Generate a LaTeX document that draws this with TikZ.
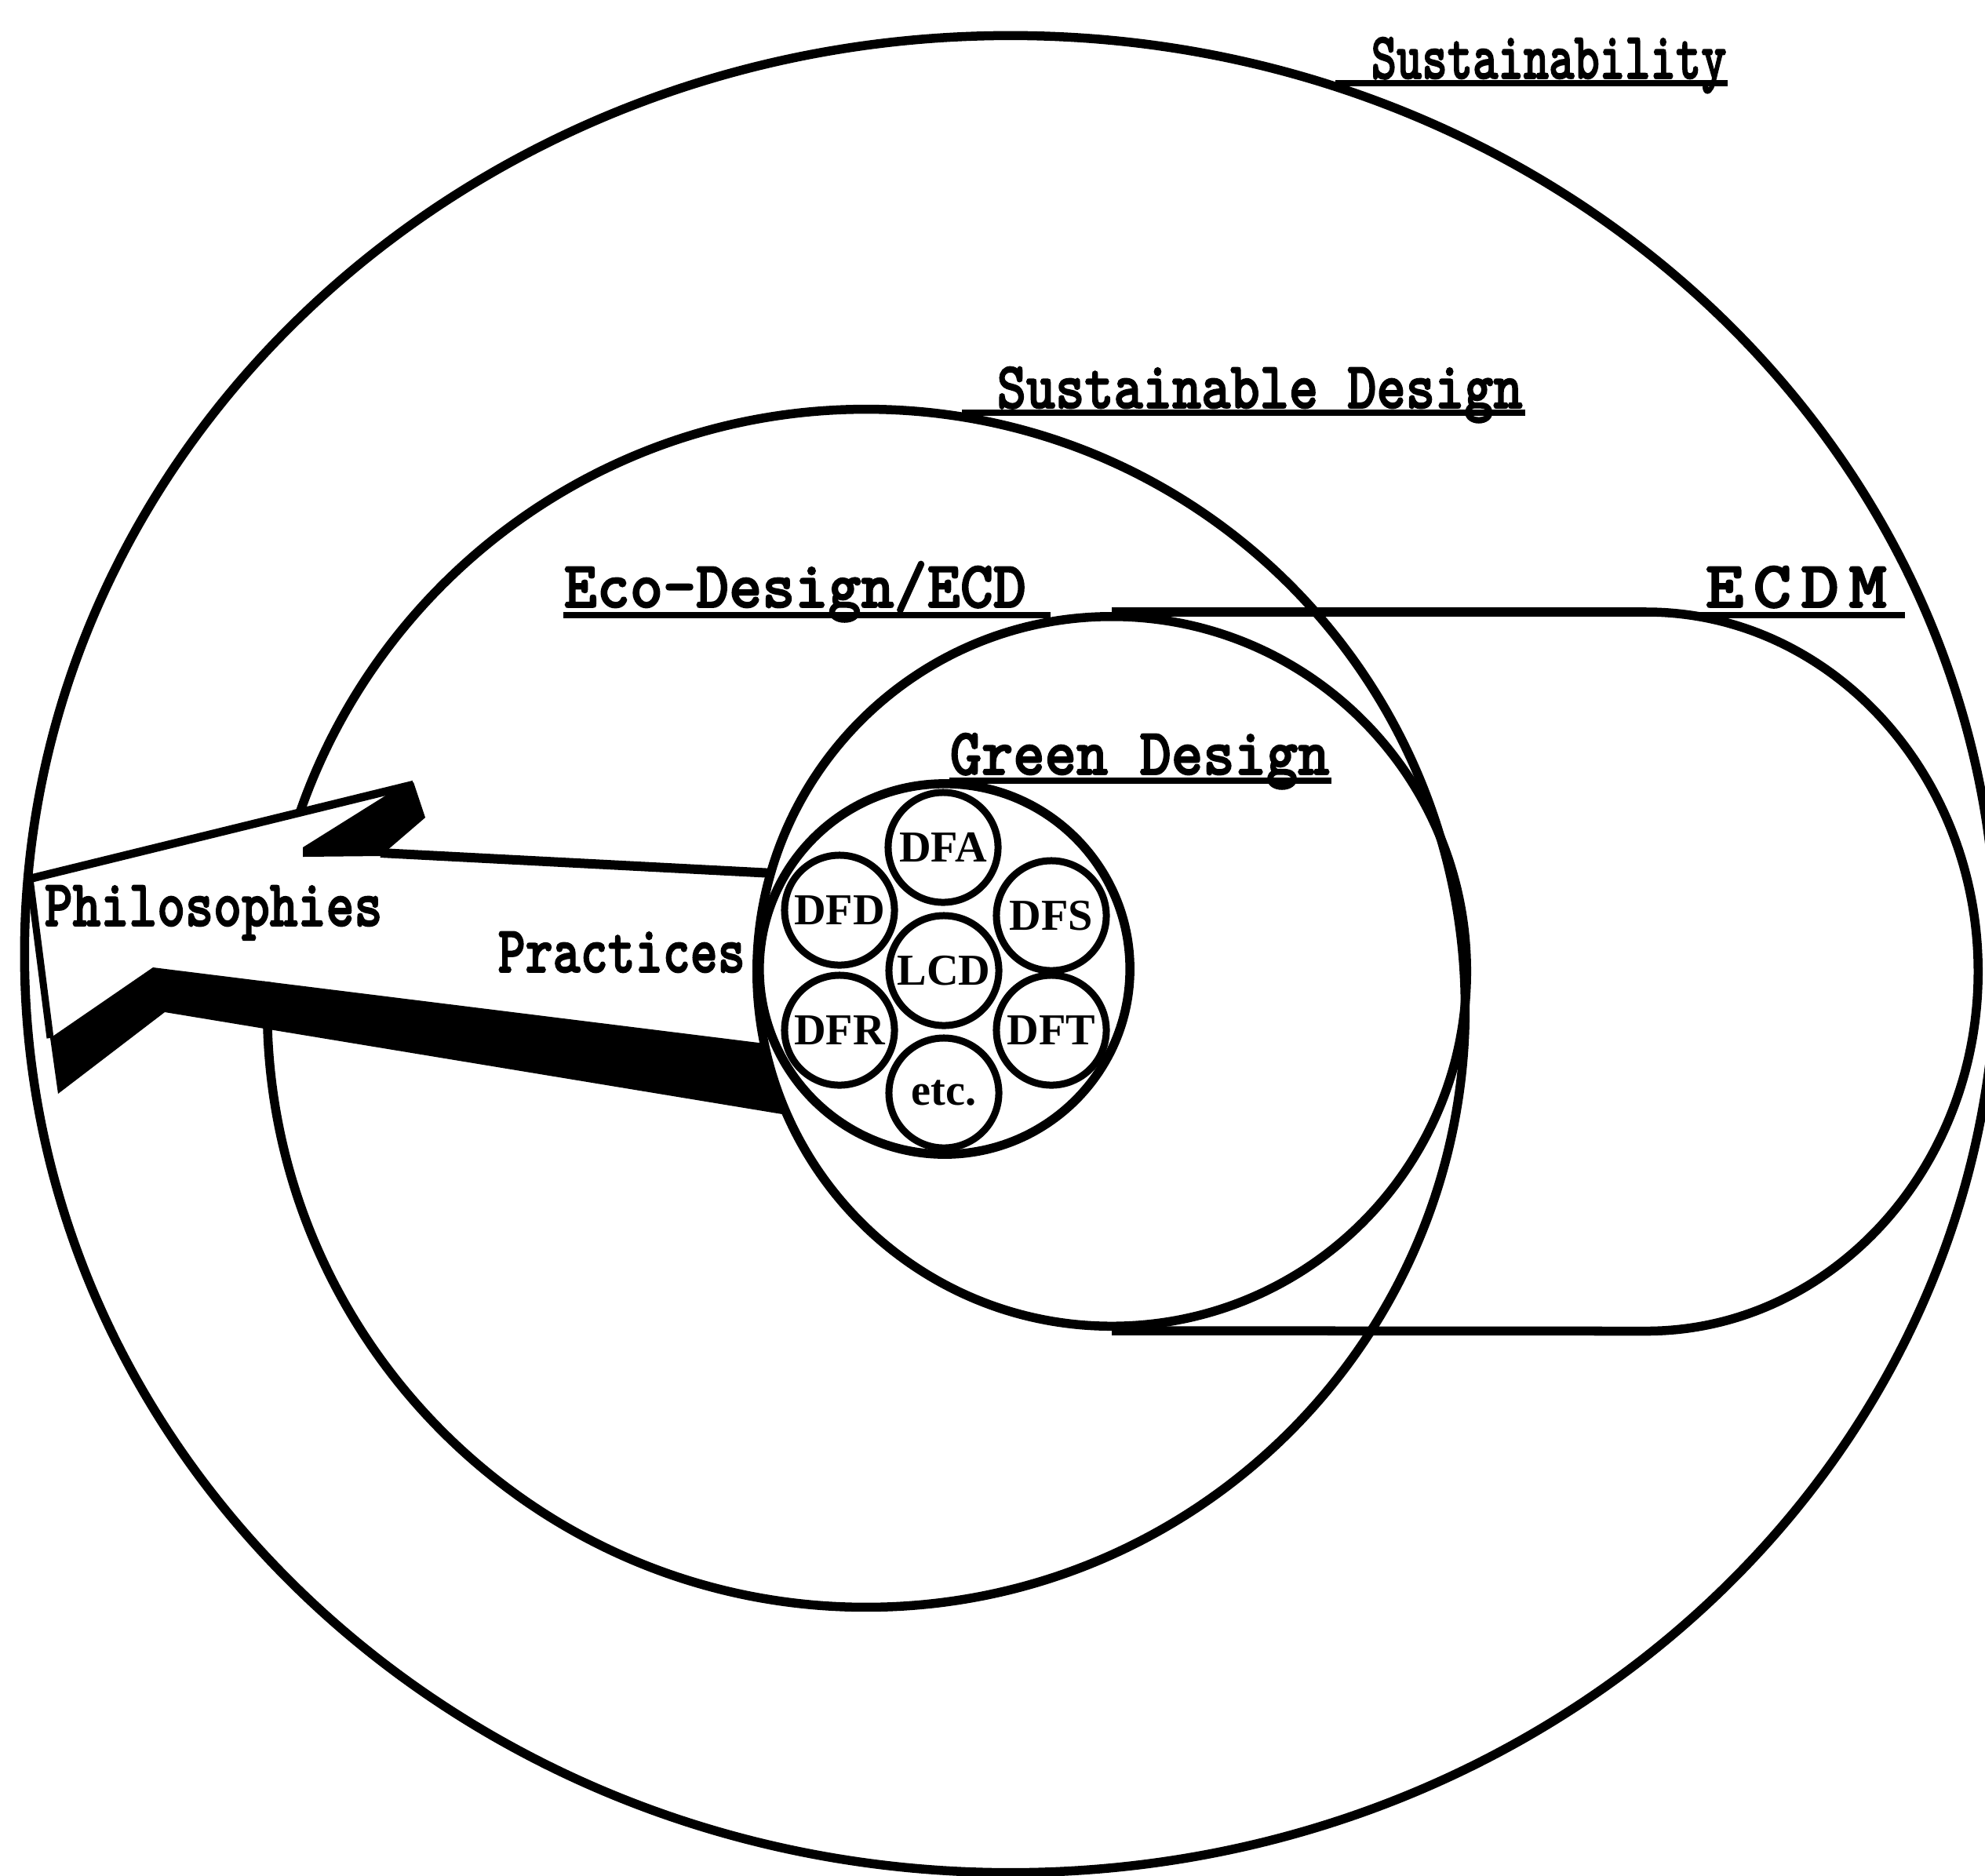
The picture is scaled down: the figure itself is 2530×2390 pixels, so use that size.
\documentclass[tikz,border=0pt]{standalone}
\usepackage{fontspec}
\usepackage{graphicx}
\usetikzlibrary{shapes.geometric}
\newfontfamily\circfont{Liberation Serif}
\newfontfamily\labfont[FakeBold=2.2]{lmmonolt10-bold.otf}
\begin{document}
\begin{tikzpicture}[x=0.01cm, y=-0.01cm,
  ring/.style={draw, circle, line width=0.115cm, inner sep=0pt},
  subc/.style={draw, circle, inner sep=0pt, line width=0.09cm, minimum size=1.40cm,
    font=\circfont\bfseries\fontsize{16}{16}\selectfont},
  lab/.style={anchor=base west, inner sep=0pt, font=\labfont\fontsize{24}{24}\selectfont},
  uline/.style={line width=0.08cm},
  edge/.style={line width=0.105cm}
]
\useasboundingbox (0,0) rectangle (2530,2390);
\fill[white] (0,0) rectangle (2530,2390);
\clip (0,0) rectangle (2530,2390);

% Sustainable Design circle
\node[ring, minimum size=15.26cm] (sd) at (1104,1285) {};

% double arrow (Philosophies / Practices)
\fill[white] (38,1120) -- (527,1000) -- (541,1042) -- (485,1088) -- (986,1112)
  -- (975,1330) -- (195,1233) -- (64,1323) -- cycle;
\fill[black] (64,1323) -- (195,1233) -- (975,1330) -- (1003,1421) -- (210,1290) -- (74,1394) -- cycle;
\fill[black] (493,1013) -- (527,997) -- (542,1042) -- (485,1091) -- (386,1092) -- (386,1080) -- cycle;
\draw[edge] (38,1120) -- (527,1000);
\draw[line width=0.12cm] (485,1087) -- (986,1113);
\draw[line width=0.09cm] (38,1120) -- (64,1323);

% Sustainability (outer)
\node[draw, ellipse, line width=0.115cm, inner sep=0pt,
  minimum width=25.12cm, minimum height=23.40cm] (sus) at (1288,1216) {};

% Eco-Design circle and ECDM stadium
\node[ring, minimum size=9.04cm] (eco) at (1417,1238) {};
\draw[line width=0.115cm] (eco.north) -- ++(681,0)
  arc[start angle=90, end angle=-90, x radius=4.23cm, y radius=4.58cm] -- (eco.south);

% Green Design circle
\node[ring, minimum size=4.72cm] (gd) at (1204,1235) {};
\node[subc] (lcd) at (1203,1237) {LCD};
\node[subc] (dfa) at (1202,1080) {DFA};
\node[subc] (dfd) at (1070,1160) {DFD};
\node[subc] (dfs) at (1340,1167) {DFS};
\node[subc] (dfr) at (1070,1313) {DFR};
\node[subc] (dft) at (1340,1313) {DFT};
\node[subc] (etc) at (1203,1393) {etc.};

% labels
\node[lab] (tsus) at (1747,100) {\scalebox{0.73}[1]{Sustainability}};
\draw[uline] (1702,106) -- (2202,106);
\node[lab] (tsd) at (1270,520) {\scalebox{0.84}[1]{Sustainable Design}};
\draw[uline] (1226,526) -- (1944,526);
\node[lab] (teco) at (718,774) {\scalebox{0.95}[1]{Eco-Design/ECD}};
\draw[uline] (718,784) -- (1339,784);
\node[lab] (tecdm) at (2173,774) {\scalebox{1.1}[1]{E\hspace{0.11cm}C\hspace{0.11cm}D\hspace{0.11cm}M}};
\draw[uline] (2159,784) -- (2428,784);
\node[lab] (tgd) at (1210,987) {\scalebox{0.91}[1]{Green Design}};
\draw[uline] (1210,995) -- (1697,995);
\node[lab] (tphil) at (56,1180) {\scalebox{0.81}[1]{Philosophies}};
\node[lab] (tprac) at (634,1239) {\scalebox{0.79}[1]{Practices}};
\end{tikzpicture}
\end{document}
